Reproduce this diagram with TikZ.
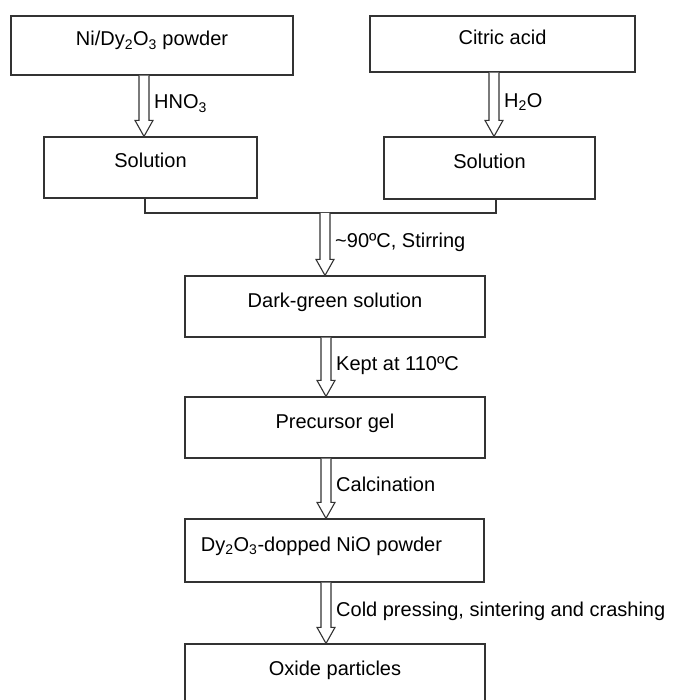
\documentclass[tikz,border=0pt]{standalone}
\usepackage{fontspec}
\setmainfont{Liberation Sans}
\usetikzlibrary{arrows.meta,calc,positioning}

\tikzset{
 stage/.style={draw=black!80,line width=1.2pt,inner sep=0pt,text height=14pt,text depth=13pt},
 hollow/.style={draw=black!80,line width=1.1pt,fill=white,line join=miter},
 lbl/.style={anchor=base west,inner sep=0pt},
 link/.style={draw=black!80,line width=1.2pt}
}
% hollow process arrow: column x, start point, target node, label name, label
\newcommand{\flowarrow}[5]{
 \coordinate (s) at (#1,0 |- #2);
 \coordinate (e) at (#1,0 |- #3.north);
 \draw[hollow] ($(s)+(-5,0)$) -- ($(e)+(-5,-16)$) -- ($(e)+(-9,-16)$) -- (e)
  -- ($(e)+(9,-16)$) -- ($(e)+(5,-16)$) -- ($(s)+(5,0)$);
 \node[lbl] (#4) at ($(s)!.5!(e)+(10,3)$) {#5};
}

\begin{document}
\begin{tikzpicture}[x=1pt,y=-1pt,font=\fontsize{20}{24}\selectfont]
\useasboundingbox (0,0) rectangle (676,700);
\node[stage,minimum width=282pt,minimum height=59pt] (powder) at (152,45.5) {Ni/Dy\textsubscript{2}O\textsubscript{3} powder};
\node[stage,minimum width=265pt,minimum height=56pt] (citric) at (502.5,44) {Citric acid};
\node[stage,minimum width=213pt,minimum height=61pt] (solL) at (150.5,167.5) {Solution};
\node[stage,minimum width=211pt,minimum height=62pt] (solR) at (489.5,168) {Solution};
\node[stage,minimum width=300pt,minimum height=61pt] (dark) at (335,306.5) {Dark-green solution};
\node[stage,minimum width=300pt,minimum height=61pt] (gel) at (335,427.5) {Precursor gel};
\node[stage,minimum width=299pt,minimum height=63pt] (doped) at (334.5,550.5) {Dy\textsubscript{2}O\textsubscript{3}-dopped NiO powder\hspace*{26pt}};
\node[stage,minimum width=300pt,minimum height=61pt] (oxide) at (335,674.5) {Oxide particles};

\coordinate (join) at (325,213);
\draw[link] (solL.south -| 145,0) |- (join) -| (solR.south -| 496,0);

\flowarrow{144}{powder.south}{solL}{hno}{HNO\textsubscript{3}}
\flowarrow{494}{citric.south}{solR}{water}{H\textsubscript{2}O}
\flowarrow{325}{join}{dark}{stir}{\textasciitilde90ºC, Stirring}
\flowarrow{326}{dark.south}{gel}{kept}{Kept at 110ºC}
\flowarrow{326}{gel.south}{doped}{calc}{Calcination}
\flowarrow{326}{doped.south}{oxide}{cold}{Cold pressing, sintering and crashing}
\end{tikzpicture}
\end{document}
